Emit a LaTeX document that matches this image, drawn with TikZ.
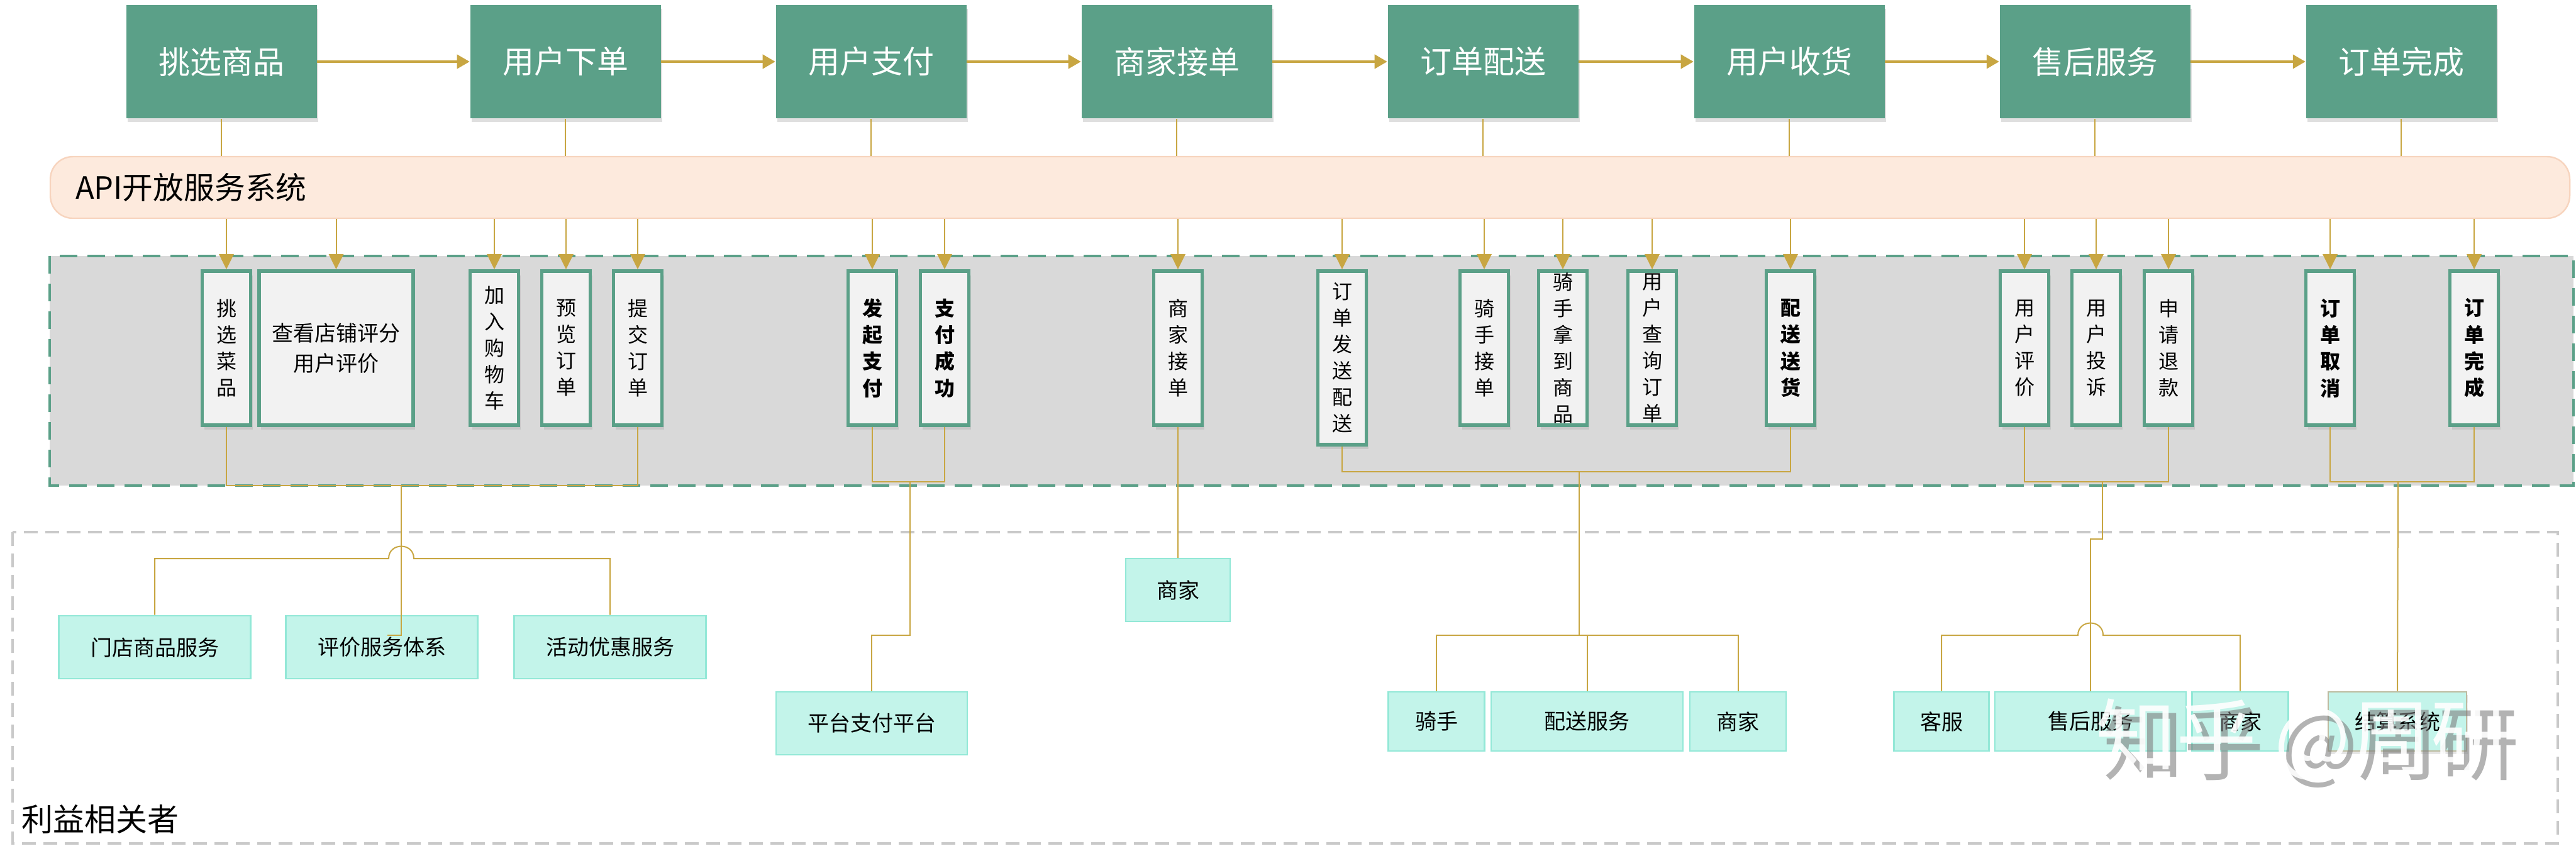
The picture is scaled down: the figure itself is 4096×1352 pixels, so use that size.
\documentclass[tikz,border=0pt]{standalone}
\usepackage{fontspec}
\setmainfont{Noto Sans CJK SC}
\usepackage{tikz}
\usetikzlibrary{calc,shapes,arrows.meta,shadows}

\definecolor{stagegreen}{HTML}{5BA088}
\definecolor{wiregold}{HTML}{C8A642}
\definecolor{apifill}{HTML}{FDEADD}
\definecolor{apiline}{HTML}{F7D4BE}
\definecolor{flowgray}{HTML}{D9D9D9}
\definecolor{actionfill}{HTML}{F2F2F2}
\definecolor{partyfill}{HTML}{C3F4EA}
\definecolor{partyline}{HTML}{93E8D7}
\definecolor{settleline}{HTML}{BDBBA0}
\definecolor{framegray}{HTML}{C9C9C9}

\tikzset{
    stage/.style={fill=stagegreen, text=white, minimum width=75.75pt, minimum height=45pt,
        inner sep=0pt, font=\fontsize{12.5}{15}\selectfont,
        drop shadow={opacity=0.25, shadow xshift=0.6pt, shadow yshift=-1.6pt}},
    action/.style={fill=actionfill, draw=stagegreen, line width=1.4pt, minimum width=19.25pt,
        minimum height=61.25pt, inner sep=0pt, align=center, font=\fontsize{8}{10.5}\selectfont,
        drop shadow={opacity=0.2, shadow xshift=0.8pt, shadow yshift=-1.8pt}},
    keyaction/.style={action, font=\fontsize{8}{10.6}\selectfont\bfseries},
    party/.style={fill=partyfill, draw=partyline, line width=0.7pt, minimum height=23.5pt,
        inner sep=0pt, font=\fontsize{8.5}{10}\selectfont},
    wire/.style={wiregold, line width=0.5pt},
    chain/.style={wiregold, line width=1pt, -{Triangle[length=5pt,width=5.5pt]}},
    feed/.style={wiregold, line width=0.5pt, -{Triangle[length=6pt,width=5.8pt]}}
}

\begin{document}
\begin{tikzpicture}[x=0.25pt, y=-0.25pt]
    \useasboundingbox (0,0) rectangle (4096,1352);

    % frames
    \draw[framegray, line width=1.1pt, dash pattern=on 5.5pt off 3pt] (20,846) rectangle (4067,1341);
    \node[anchor=west, font=\fontsize{12.5}{15}\selectfont] (partytitle) at (20,1302) {利益相关者};
    \draw[fill=flowgray, draw=stagegreen, line width=1.1pt, dash pattern=on 7pt off 4pt] (79,407) rectangle (4092,772);

    \node[fill=apifill, draw=apiline, line width=0.6pt, rounded corners=9pt, minimum width=1001.5pt,
        minimum height=24.5pt, inner sep=0pt] (api) at (2083,298) {};
    \node[anchor=west, font=\fontsize{12.2}{14}\selectfont] (apilabel) at (106,298) {API开放服务系统};

    % stages
    \foreach \name/\x/\txt in {s1/352/挑选商品, s2/899/用户下单, s3/1385/用户支付, s4/1871/商家接单,
        s5/2358/订单配送, s6/2845/用户收货, s7/3331/售后服务, s8/3818/订单完成}
        \node[stage] (\name) at (\x,98) {\txt};
    \foreach \a/\b in {s1/s2, s2/s3, s3/s4, s4/s5, s5/s6, s6/s7, s7/s8}
        \draw[chain] (\a) -- (\b);
    \foreach \n in {s1,s2,s3,s4,s5,s6,s7,s8}
        \draw[wire] (\n.south) -- (\n.south |- api.north);

    % actions
    \node[action] (a1) at (360,553.5) {挑\\选\\菜\\品};
    \node[action, minimum width=61.25pt, font=\fontsize{8.5}{12}\selectfont] (a2) at (534.5,553.5) {查看店铺评分\\用户评价};
    \node[action] (a3) at (786,553.5) {加\\入\\购\\物\\车};
    \node[action] (a4) at (900,553.5) {预\\览\\订\\单};
    \node[action] (a5) at (1014,553.5) {提\\交\\订\\单};
    \node[keyaction] (a6) at (1387,553.5) {发\\起\\支\\付};
    \node[keyaction] (a7) at (1502,553.5) {支\\付\\成\\功};
    \node[action] (a8) at (1873,553.5) {商\\家\\接\\单};
    \node[action, minimum height=69pt] (a9) at (2134,569) {订\\单\\发\\送\\配\\送};
    \node[action] (a10) at (2360,553.5) {骑\\手\\接\\单};
    \node[action] (a11) at (2485,553.5) {骑\\手\\拿\\到\\商\\品};
    \node[action] (a12) at (2627,553.5) {用\\户\\查\\询\\订\\单};
    \node[keyaction] (a13) at (2847,553.5) {配\\送\\送\\货};
    \node[action] (a14) at (3219,553.5) {用\\户\\评\\价};
    \node[action] (a15) at (3333,553.5) {用\\户\\投\\诉};
    \node[action] (a16) at (3448,553.5) {申\\请\\退\\款};
    \node[keyaction] (a17) at (3705,553.5) {订\\单\\取\\消};
    \node[keyaction] (a18) at (3934,553.5) {订\\单\\完\\成};
    \foreach \n in {a1,a2,a3,a4,a5,a6,a7,a8,a9,a10,a11,a12,a13,a14,a15,a16,a17,a18}
        \draw[feed] (\n.north |- api.south) -- (\n.north);

    % stakeholders
    \node[party, minimum width=76.25pt, minimum height=25pt] (p1) at (246,1029) {门店商品服务};
    \node[party, minimum width=76.25pt, minimum height=25pt] (p2) at (607,1029) {评价服务体系};
    \node[party, minimum width=76.25pt, minimum height=25pt] (p3) at (970,1029) {活动优惠服务};
    \node[party, minimum width=76pt, minimum height=25pt] (p4) at (1386,1150) {平台支付平台};
    \node[party, minimum width=41.5pt, minimum height=25pt] (p5) at (1873,938) {商家};
    \node[party, minimum width=38.25pt] (p6) at (2284,1147) {骑手};
    \node[party, minimum width=76.25pt] (p7) at (2523.5,1147) {配送服务};
    \node[party, minimum width=38.25pt] (p8) at (2763.5,1147) {商家};
    \node[party, minimum width=37.75pt] (p9) at (3087,1147) {客服};
    \node[party, minimum width=76pt] (p10) at (3324,1147) {售后服务};
    \node[party, minimum width=38.25pt] (p11) at (3562,1147) {商家};
    \node[party, draw=settleline, minimum width=55pt,
        drop shadow={opacity=0.2, shadow xshift=0.6pt, shadow yshift=-1.2pt}] (p12) at (3812,1147) {结算系统};

    % links to stakeholders
    \coordinate (g1) at (638,772);
    \coordinate (g1end) at (616,1010);
    \draw[wire] (a1.south) |- (g1) -| (a5.south);
    \draw[wire] (g1) |- (g1end);
    \draw[wire] (p1.north) |- (618,888) .. controls (618,862) and (658,862) .. (658,888) -| (p3.north);

    \coordinate (g2) at (1447,766);
    \draw[wire] (a6.south) |- (g2) -| (a7.south);
    \draw[wire] (g2) -- ++(0,244) -| (p4.north);

    \draw[wire] (a8) -- (p5);

    \coordinate (g3) at (2511,750);
    \draw[wire] (a9.south) |- (g3) -| (a13.south);
    \draw[wire] (g3) -- ++(0,260) coordinate (g3bus);
    \draw[wire] (p6.north) |- (g3bus) -| (p8.north);
    \draw[wire] (p7.north) -- (p7.north |- g3bus);

    \coordinate (g4) at (3343,766);
    \draw[wire] (a14.south) |- (g4) -| (a16.south);
    \draw[wire] (g4) -- ++(0,91) -| (p10.north);
    \draw[wire] (p9.north) |- (3304,1010) .. controls (3304,984) and (3344,984) .. (3344,1010) -| (p11.north);

    \coordinate (g5) at (3813,766);
    \draw[wire] (a17.south) |- (g5) -| (a18.south);
    \draw[wire] (g5) -- (p12.north);

    % watermark
    \node[anchor=west, font=\fontsize{32}{36}\selectfont, text=gray, opacity=0.6] (markshade) at (3330,1188) {知乎 @周研};
    \node[anchor=west, font=\fontsize{32}{36}\selectfont, text=white, opacity=0.9] (mark) at (3318,1176) {知乎 @周研};
\end{tikzpicture}
\end{document}
